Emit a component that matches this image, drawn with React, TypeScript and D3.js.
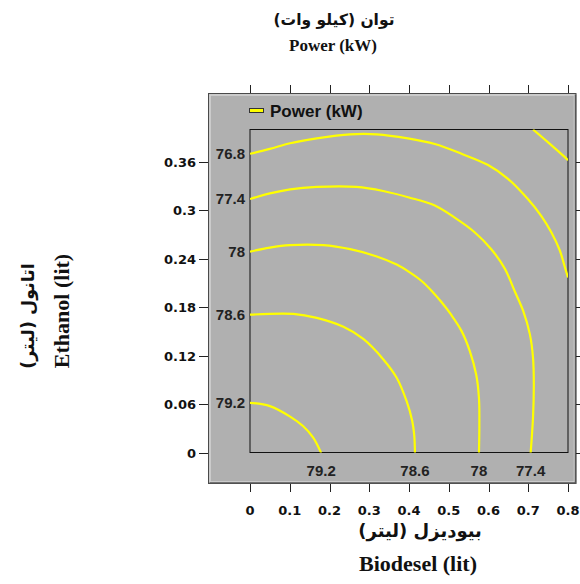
import React from "react";
import * as d3 from "d3";

// ---- data ----
const xTicks = [0, 0.1, 0.2, 0.3, 0.4, 0.5, 0.6, 0.7, 0.8];
const xTickLabels = ["0", "0.1", "0.2", "0.3", "0.4", "0.5", "0.6", "0.7", "0.8"];
const yTicks = [0, 0.06, 0.12, 0.18, 0.24, 0.3, 0.36];
const yTickLabels = ["0", "0.06", "0.12", "0.18", "0.24", "0.3", "0.36"];

const levels = [79.2, 78.6, 78, 77.4, 76.8, 76.2];
const leftLabelLevels = [79.2, 78.6, 78, 77.4, 76.8];
const bottomLabelLevels = [79.2, 78.6, 78, 77.4];

// contour lines [biodesel, ethanol]
const c792: [number, number][] = [[0, 0.062], [0.05, 0.058], [0.101, 0.045], [0.134, 0.033], [0.159, 0.019], [0.179, 0]];
const c786: [number, number][] = [[0, 0.171], [0.109, 0.172], [0.168, 0.167], [0.235, 0.156], [0.285, 0.141], [0.335, 0.116], [0.369, 0.093], [0.394, 0.064], [0.408, 0.04], [0.413, 0.023], [0.415, 0]];
const c780: [number, number][] = [[0, 0.249], [0.05, 0.254], [0.101, 0.257], [0.184, 0.257], [0.252, 0.252], [0.319, 0.243], [0.369, 0.233], [0.4, 0.224], [0.431, 0.213], [0.456, 0.201], [0.481, 0.187], [0.506, 0.171], [0.532, 0.151], [0.553, 0.126], [0.569, 0.097], [0.576, 0.068], [0.577, 0.035], [0.576, 0]];
const c774: [number, number][] = [[0, 0.314], [0.05, 0.321], [0.101, 0.326], [0.168, 0.329], [0.268, 0.329], [0.335, 0.324], [0.4, 0.316], [0.465, 0.306], [0.515, 0.291], [0.565, 0.273], [0.607, 0.252], [0.641, 0.228], [0.666, 0.2], [0.687, 0.176], [0.704, 0.147], [0.712, 0.118], [0.714, 0.085], [0.712, 0.044], [0.706, 0]];
const c768: [number, number][] = [[0, 0.37], [0.05, 0.376], [0.101, 0.383], [0.168, 0.389], [0.252, 0.394], [0.319, 0.394], [0.397, 0.389], [0.465, 0.382], [0.532, 0.37], [0.599, 0.356], [0.649, 0.339], [0.699, 0.314], [0.733, 0.293], [0.758, 0.273], [0.779, 0.251], [0.792, 0.23], [0.8, 0.217]];
const c762: [number, number][] = [[0.712, 0.4], [0.75, 0.384], [0.796, 0.364], [0.8, 0.362]];

const contourLines = [c792, c786, c780, c774, c768, c762];

const titleFa = "توان (کیلو وات)";
const titleEn = "Power (kW)";
const xTitleFa = "بیودیزل (لیتر)";
const xTitleEn = "Biodesel (lit)";
const yTitleFa = "اتانول (لیتر)";
const yTitleEn = "Ethanol (lit)";
const legendLabel = "Power (kW)";

export default function App() {
  const x = d3.scaleLinear().domain([0, 0.8]).range([250, 568]);
  const y = d3.scaleLinear().domain([0, 0.4]).range([453, 129.5]);
  const line = d3
    .line<[number, number]>()
    .x((d) => x(d[0]))
    .y((d) => y(d[1]))
    .curve(d3.curveCatmullRom.alpha(0.5));

  const panel = { x0: 208.5, y0: 93.5, x1: 576, y1: 483.5 };
  const tickFont = { fontFamily: "'DejaVu Sans', sans-serif", fontWeight: 700, fontSize: 13 } as const;
  const cFont = { fontFamily: "'Liberation Sans', Arial, sans-serif", fontWeight: 700, fontSize: 15 } as const;
  const serif = "'Liberation Serif', 'Times New Roman', serif";
  const fa = "'DejaVu Sans', sans-serif";

  return (
    <svg
      width={580}
      height={584}
      style={{ position: "absolute", left: 0, top: 0, background: "#fff" }}
    >
      {/* titles */}
      <text x={334} y={25} textAnchor="middle" direction="rtl" fontFamily={fa} fontWeight={700} fontSize={15.5} fill="#111">
        {titleFa}
      </text>
      <text x={333} y={51} textAnchor="middle" fontFamily={serif} fontWeight={700} fontSize={17} fill="#111">
        {titleEn}
      </text>

      {/* panel */}
      <rect x={panel.x0} y={panel.y0} width={panel.x1 - panel.x0} height={panel.y1 - panel.y0} fill="#b0b0b0" stroke="#4a4a4a" strokeWidth={1} />
      <rect x={panel.x0 + 1.5} y={panel.y0 + 1.5} width={panel.x1 - panel.x0 - 3} height={panel.y1 - panel.y0 - 3} fill="none" stroke="#d4d4d4" strokeWidth={1.5} />
      <line x1={panel.x0 + 1} x2={panel.x1} y1={panel.y1 - 0.5} y2={panel.y1 - 0.5} stroke="#555" strokeWidth={1.5} />
      <line x1={panel.x1 - 0.5} x2={panel.x1 - 0.5} y1={panel.y0 + 1} y2={panel.y1} stroke="#555" strokeWidth={1.5} />

      {/* ticks */}
      {xTicks.map((v, i) => (
        <g key={"xt" + i}>
          <line x1={Math.round(x(v)) + 0.5} x2={Math.round(x(v)) + 0.5} y1={85} y2={93} stroke="#222" />
          <line x1={Math.round(x(v)) + 0.5} x2={Math.round(x(v)) + 0.5} y1={484} y2={492} stroke="#222" />
          <text x={x(v)} y={515} textAnchor="middle" fill="#111" {...tickFont}>
            {xTickLabels[i]}
          </text>
        </g>
      ))}
      {yTicks.map((v, i) => (
        <g key={"yt" + i}>
          <line x1={199} x2={208} y1={Math.round(y(v)) + 0.5} y2={Math.round(y(v)) + 0.5} stroke="#222" />
          <line x1={576} x2={581} y1={Math.round(y(v)) + 0.5} y2={Math.round(y(v)) + 0.5} stroke="#222" />
          <text x={196} y={y(v)} dy="0.36em" textAnchor="end" fill="#111" {...tickFont}>
            {yTickLabels[i]}
          </text>
        </g>
      ))}

      {/* legend */}
      <rect x={249.5} y={108.5} width={14} height={4} fill="#ffff00" stroke="#333" strokeWidth={1} />
      <text x={270} y={117} fontFamily="'Liberation Sans', Arial, sans-serif" fontWeight={700} fontSize={17} fill="#111">
        {legendLabel}
      </text>

      {/* plot box */}
      <rect x={250} y={129.5} width={318} height={323} fill="none" stroke="#111" strokeWidth={1} />

      {/* contours */}
      <defs>
        <clipPath id="plotclip">
          <rect x={250} y={129.5} width={318} height={323} />
        </clipPath>
      </defs>
      <g clipPath="url(#plotclip)">
        {contourLines.map((pts, i) => (
          <path key={"c" + i} d={line(pts) || ""} fill="none" stroke="#ffff00" strokeWidth={2.2} />
        ))}
      </g>

      {/* contour labels */}
      {leftLabelLevels.map((lv) => {
        const pts = contourLines[levels.indexOf(lv)];
        return (
          <text key={"ll" + lv} x={245} y={y(pts[0][1])} dy="0.36em" textAnchor="end" fill="#222" {...cFont}>
            {String(lv)}
          </text>
        );
      })}
      {bottomLabelLevels.map((lv) => {
        const pts = contourLines[levels.indexOf(lv)];
        return (
          <text key={"bl" + lv} x={x(pts[pts.length - 1][0])} y={476} textAnchor="middle" fill="#222" {...cFont}>
            {String(lv)}
          </text>
        );
      })}

      {/* x title */}
      <text x={420} y={537} textAnchor="middle" direction="rtl" fontFamily={fa} fontWeight={700} fontSize={18} fill="#111">
        {xTitleFa}
      </text>
      <text x={418} y={571} textAnchor="middle" fontFamily={serif} fontWeight={700} fontSize={22} fill="#111">
        {xTitleEn}
      </text>

      {/* y title */}
      <text transform="translate(34,316) rotate(-90)" textAnchor="middle" direction="rtl" fontFamily={fa} fontWeight={700} fontSize={17.5} fill="#111">
        {yTitleFa}
      </text>
      <text transform="translate(69,311) rotate(-90)" textAnchor="middle" fontFamily={serif} fontWeight={700} fontSize={22} fill="#111">
        {yTitleEn}
      </text>
    </svg>
  );
}
